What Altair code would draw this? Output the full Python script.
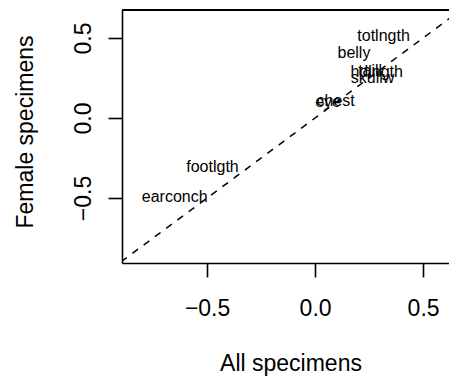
import altair as alt
import pandas as pd

# Variable loadings: all specimens (x) vs female specimens (y)
variables = ["totlngth", "belly", "hdlngth", "taill", "skullw", "chest", "eye", "footlgth", "earconch"]
all_specimens = [0.317, 0.180, 0.285, 0.255, 0.266, 0.095, 0.060, -0.475, -0.650]
female_specimens = [0.510, 0.406, 0.290, 0.292, 0.250, 0.106, 0.098, -0.306, -0.494]

# Axis limits and the y = x reference line
x_limits = [-0.894, 0.620]
y_limits = [-0.906, 0.675]
identity_ends = [-0.95, 0.75]
ticks = [-0.5, 0.0, 0.5]

FONT = "Liberation Sans"
W, H = 327, 253

pts = pd.DataFrame({"var": variables, "all": all_specimens, "female": female_specimens})
diag = pd.DataFrame({"all": identity_ends, "female": identity_ends})

xscale = alt.Scale(domain=x_limits, nice=False, zero=False)
yscale = alt.Scale(domain=y_limits, nice=False, zero=False)

x_axis = alt.Axis(
    title="All specimens", values=ticks, format=".1f", grid=False,
    domainColor="black", domainWidth=1.6, tickColor="black", tickWidth=1.6, tickSize=14,
    labelFont=FONT, labelFontSize=23, labelColor="black", labelPadding=38,
    labelBaseline="alphabetic", labelFlush=False,
    titleFont=FONT, titleFontSize=23, titleFontWeight="normal", titleColor="black",
    titleX=168.5, titleY=107, titleBaseline="alphabetic", titleAnchor="start", titleAlign="center",
)
y_axis = alt.Axis(
    title="Female specimens", values=ticks, format=".1f", grid=False,
    domainColor="black", domainWidth=1.6, tickColor="black", tickWidth=1.6, tickSize=14,
    labelFont=FONT, labelFontSize=23, labelColor="black", labelPadding=18,
    labelAngle=270, labelAlign="center", labelBaseline="alphabetic", labelFlush=False,
    titleFont=FONT, titleFontSize=23, titleFontWeight="normal", titleColor="black",
    titleAngle=270, titleX=-90, titleY=121.5, titleBaseline="alphabetic", titleAlign="center",
)

base = alt.Chart(pts)

labels = base.mark_text(font=FONT, fontSize=16, color="black", baseline="middle", align="center").encode(
    x=alt.X("all:Q", scale=xscale, axis=x_axis),
    y=alt.Y("female:Q", scale=yscale, axis=y_axis),
    text="var:N",
)

identity = alt.Chart(diag).mark_line(
    color="black", strokeWidth=1.5, strokeDash=[7, 7], clip=True
).encode(
    x=alt.X("all:Q", scale=xscale),
    y=alt.Y("female:Q", scale=yscale),
)

# top edge of the plot box
top_edge = alt.Chart(pts).mark_rule(color="black", strokeWidth=1.6).encode(
    x=alt.value(0), x2=alt.value(W), y=alt.value(0)
)

chart = alt.layer(identity, labels, top_edge).properties(
    width=W, height=H,
    autosize=alt.AutoSizeParams(type="none"),
    padding={"left": 122, "top": 10, "right": 0, "bottom": 114},
).configure_view(stroke=None).configure(background="white")

chart.save("out.html", embed_options={"renderer": "svg", "actions": False})
